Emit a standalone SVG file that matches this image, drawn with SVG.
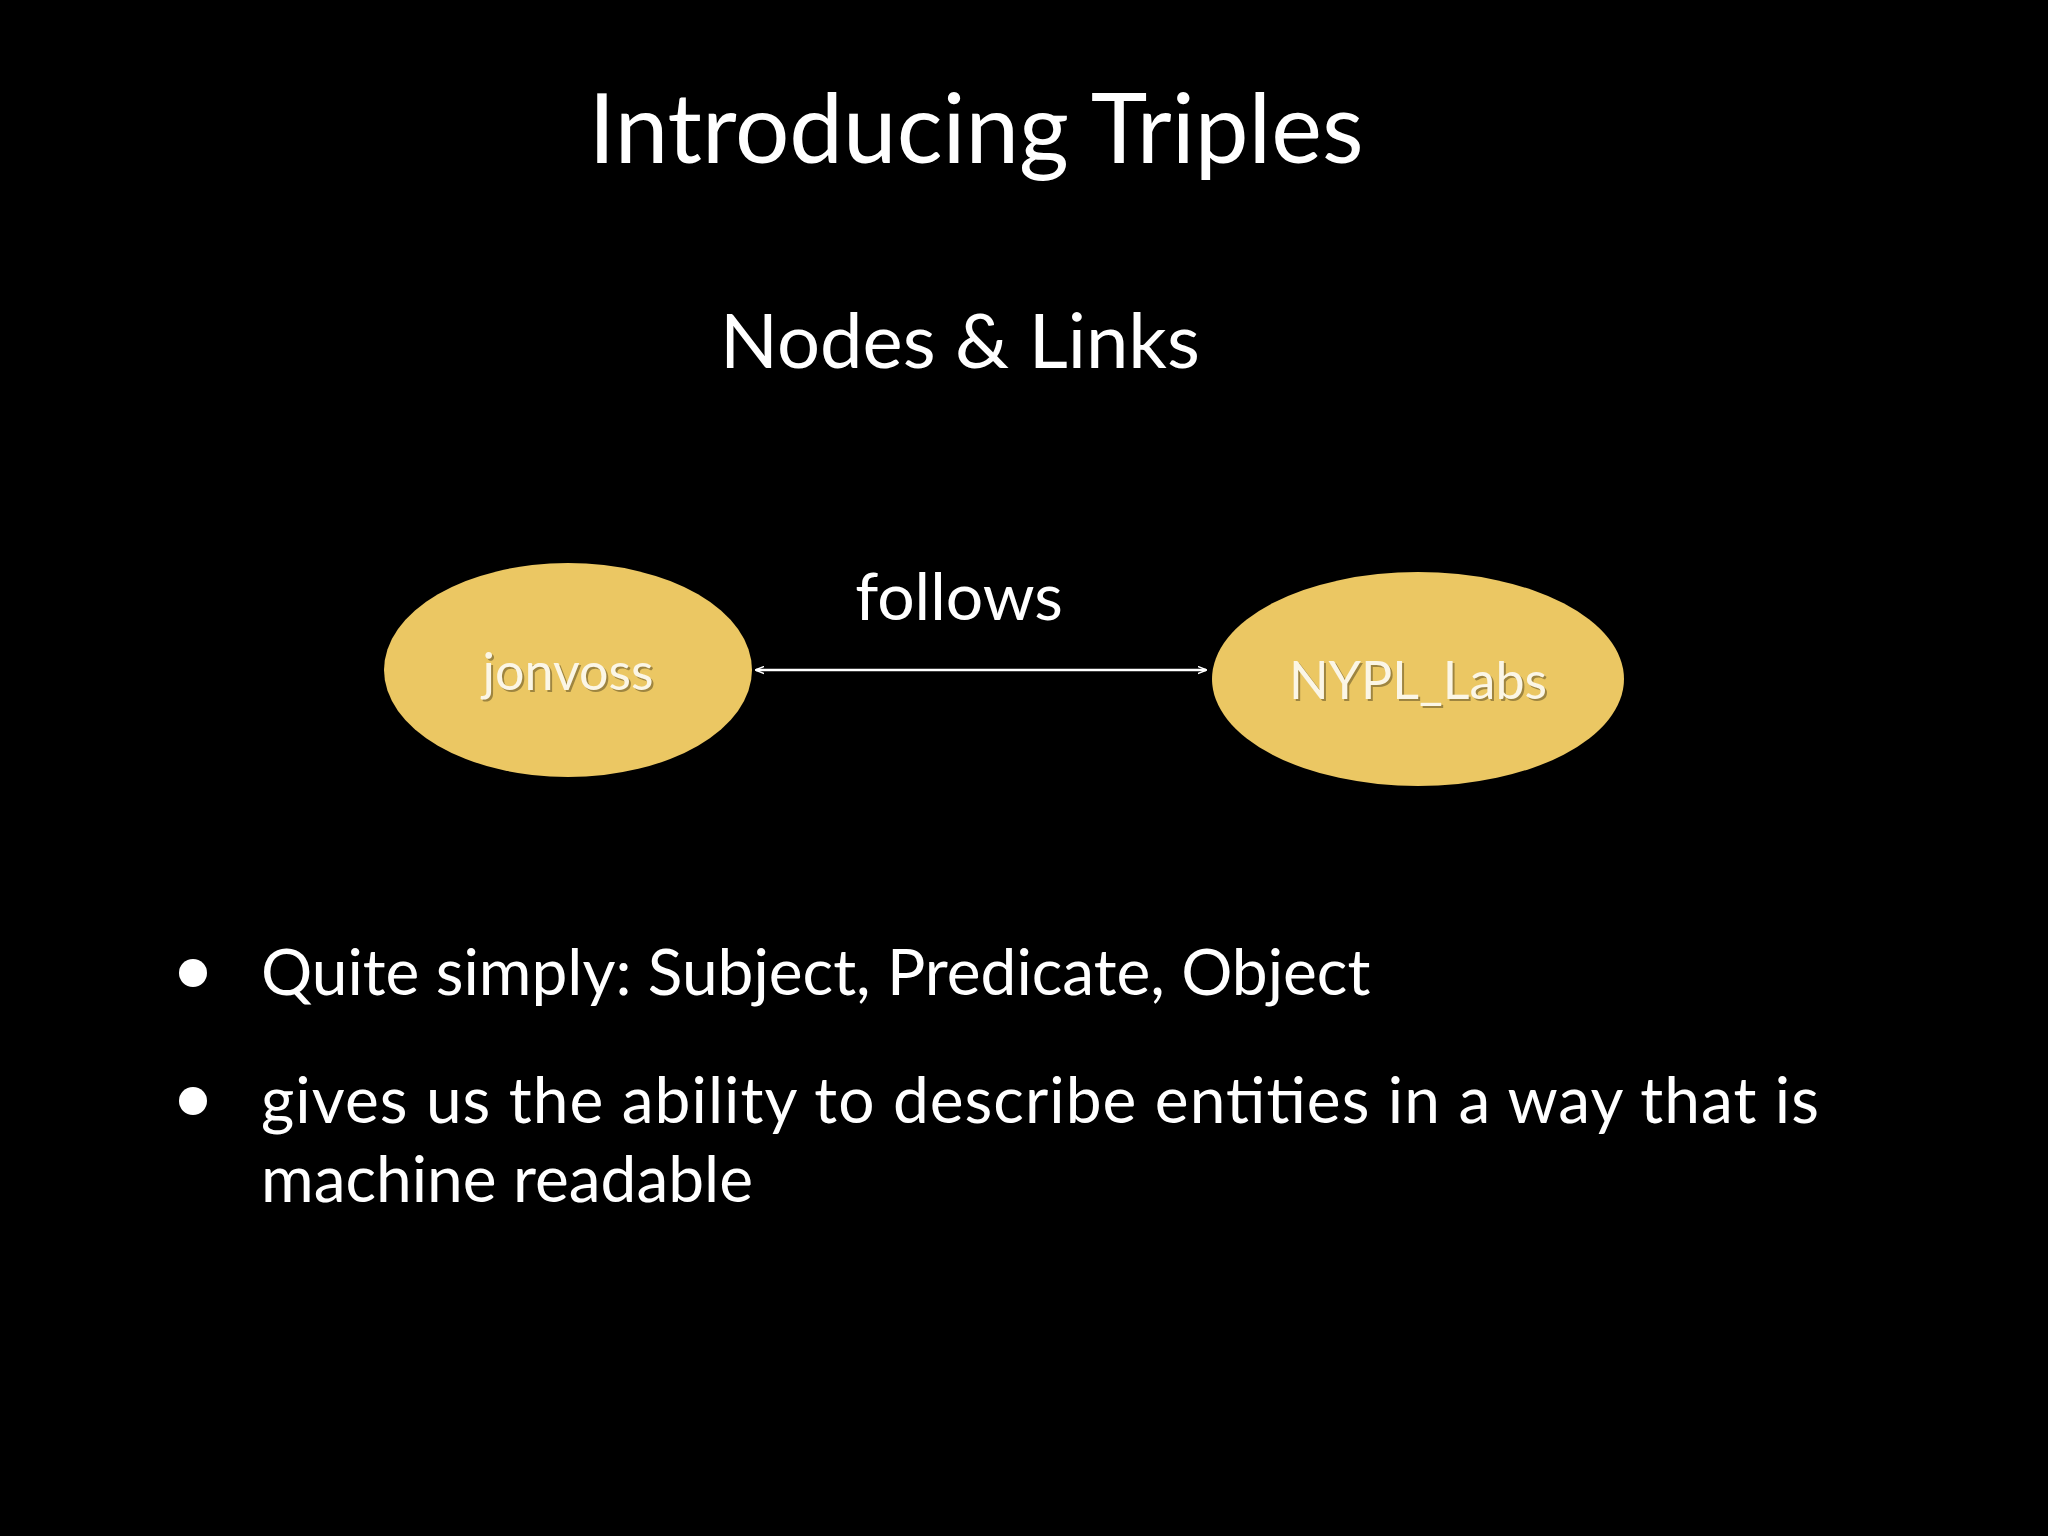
<svg xmlns="http://www.w3.org/2000/svg" width="2048" height="1536" viewBox="0 0 2048 1536">
<style>
text{font-family:Lato,"Open Sans",sans-serif;fill:#fff}
.node{fill:#ebc763}
.lbl{font-size:52px;text-anchor:middle;fill:#fbf6e6}
.sh{font-size:52px;text-anchor:middle;fill:#6b5a2a;opacity:.6}
.b{font-size:64px}
</style>
<defs>
<marker id="ah" viewBox="0 0 10 10" refX="9" refY="5" markerWidth="9" markerHeight="9" orient="auto-start-reverse" markerUnits="userSpaceOnUse">
<path d="M0,1 L10,5 L0,9" fill="none" stroke="#fff" stroke-width="1.5"/>
</marker>
</defs>
<rect width="2048" height="1536" fill="#000"/>
<text x="976" y="163" font-size="96" text-anchor="middle">Introducing Triples</text>
<text x="960" y="368" font-size="76" text-anchor="middle">Nodes &amp; Links</text>
<g id="connectors">
<line x1="756" y1="670" x2="1206" y2="670" stroke="#fff" stroke-width="2.5" marker-start="url(#ah)" marker-end="url(#ah)"/>
<text x="959" y="620" font-size="66" text-anchor="middle">follows</text>
</g>
<g id="jonvoss">
<ellipse class="node" cx="568" cy="670" rx="184" ry="107"/>
<text class="sh" x="570" y="692">jonvoss</text>
<text class="lbl" x="568" y="690">jonvoss</text>
</g>
<g id="NYPL_Labs">
<ellipse class="node" cx="1418" cy="679" rx="206" ry="107"/>
<text class="sh" x="1420" y="701">NYPL_Labs</text>
<text class="lbl" x="1418" y="699">NYPL_Labs</text>
</g>
<circle cx="193" cy="973" r="14" fill="#fff"/>
<text class="b" x="261" y="995">Quite simply: Subject, Predicate, Object</text>
<circle cx="193" cy="1101" r="14" fill="#fff"/>
<text class="b" x="261" y="1123" textLength="1558" lengthAdjust="spacing">gives us the ability to describe entities in a way that is</text>
<text class="b" x="261" y="1202">machine readable</text>
</svg>
